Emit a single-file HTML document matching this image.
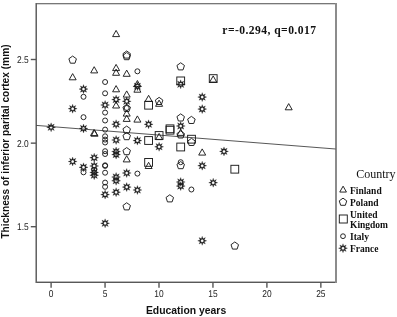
<!DOCTYPE html>
<html><head><meta charset="utf-8"><style>
html,body{margin:0;padding:0;background:#fff;}
svg{display:block;will-change:transform;}
.tk{font-family:"Liberation Sans",sans-serif;font-size:9.9px;fill:#222;text-rendering:geometricPrecision;}
.ax{font-family:"Liberation Sans",sans-serif;font-weight:bold;font-size:10.4px;fill:#111;}
.ay{font-family:"Liberation Sans",sans-serif;font-weight:bold;font-size:10.17px;fill:#111;}
.ti{font-family:"Liberation Serif",serif;font-weight:bold;font-size:11.6px;letter-spacing:0.44px;fill:#111;}
.lt{font-family:"Liberation Serif",serif;font-size:12px;fill:#111;}
.lg{font-family:"Liberation Serif",serif;font-weight:bold;font-size:9.5px;fill:#111;}
</style></head><body>
<svg width="397" height="317" viewBox="0 0 397 317">
<rect width="397" height="317" fill="#fff"/>
<g shape-rendering="crispEdges"><rect x="35" y="3" width="302" height="1" fill="#777"/><rect x="36" y="4" width="300" height="1" fill="#d4d4d4"/><rect x="35" y="281" width="302" height="1" fill="#b8b8b8"/><rect x="35" y="282" width="302" height="1" fill="#585858"/><rect x="35" y="3" width="1" height="280" fill="#aaa"/><rect x="36" y="3" width="1" height="280" fill="#636363"/><rect x="335" y="3" width="1" height="280" fill="#8c8c8c"/><rect x="336" y="3" width="1" height="280" fill="#8c8c8c"/></g>
<line x1="51.10" y1="282.5" x2="51.10" y2="287.8" stroke="#555" stroke-width="1.4"/><text transform="translate(51.10,296.9) scale(0.85,1)" text-anchor="middle" class="tk">0</text><line x1="105.05" y1="282.5" x2="105.05" y2="287.8" stroke="#555" stroke-width="1.4"/><text transform="translate(105.05,296.9) scale(0.85,1)" text-anchor="middle" class="tk">5</text><line x1="159.00" y1="282.5" x2="159.00" y2="287.8" stroke="#555" stroke-width="1.4"/><text transform="translate(159.00,296.9) scale(0.85,1)" text-anchor="middle" class="tk">10</text><line x1="212.95" y1="282.5" x2="212.95" y2="287.8" stroke="#555" stroke-width="1.4"/><text transform="translate(212.95,296.9) scale(0.85,1)" text-anchor="middle" class="tk">15</text><line x1="266.90" y1="282.5" x2="266.90" y2="287.8" stroke="#555" stroke-width="1.4"/><text transform="translate(266.90,296.9) scale(0.85,1)" text-anchor="middle" class="tk">20</text><line x1="320.85" y1="282.5" x2="320.85" y2="287.8" stroke="#555" stroke-width="1.4"/><text transform="translate(320.85,296.9) scale(0.85,1)" text-anchor="middle" class="tk">25</text><line x1="30.8" y1="59.5" x2="36" y2="59.5" stroke="#555" stroke-width="1.4"/><text transform="translate(28.7,62.9) scale(0.85,1)" text-anchor="end" class="tk">2.5</text><line x1="30.8" y1="143.15" x2="36" y2="143.15" stroke="#555" stroke-width="1.4"/><text transform="translate(28.7,146.6) scale(0.85,1)" text-anchor="end" class="tk">2.0</text><line x1="30.8" y1="226.7" x2="36" y2="226.7" stroke="#555" stroke-width="1.4"/><text transform="translate(28.7,230.1) scale(0.85,1)" text-anchor="end" class="tk">1.5</text>
<line x1="36.2" y1="125.4" x2="335.7" y2="149" stroke="#444" stroke-width="0.9"/>
<rect x="144.70" y="101.30" width="7.8" height="7.8" rx="0" fill="none" stroke="#1c1c1c" stroke-width="0.95"/><rect x="144.70" y="136.60" width="7.8" height="7.8" rx="0" fill="none" stroke="#1c1c1c" stroke-width="0.95"/><rect x="144.70" y="158.50" width="7.8" height="7.8" rx="0" fill="none" stroke="#1c1c1c" stroke-width="0.95"/><rect x="155.20" y="131.60" width="7.8" height="7.8" rx="0" fill="none" stroke="#1c1c1c" stroke-width="0.95"/><rect x="166.10" y="124.90" width="7.8" height="7.8" rx="0" fill="none" stroke="#1c1c1c" stroke-width="0.95"/><rect x="166.10" y="126.30" width="7.8" height="7.8" rx="0" fill="none" stroke="#1c1c1c" stroke-width="0.95"/><rect x="176.80" y="77.00" width="7.8" height="7.8" rx="0" fill="none" stroke="#1c1c1c" stroke-width="0.95"/><rect x="176.80" y="143.10" width="7.8" height="7.8" rx="0" fill="none" stroke="#1c1c1c" stroke-width="0.95"/><rect x="187.60" y="135.30" width="7.8" height="7.8" rx="0" fill="none" stroke="#1c1c1c" stroke-width="0.95"/><rect x="209.30" y="74.70" width="7.8" height="7.8" rx="0" fill="none" stroke="#1c1c1c" stroke-width="0.95"/><rect x="230.90" y="165.30" width="7.8" height="7.8" rx="0" fill="none" stroke="#1c1c1c" stroke-width="0.95"/><path d="M72.65,56.05 L76.41,58.78 L74.97,63.20 L70.33,63.20 L68.89,58.78Z" fill="none" stroke="#1c1c1c" stroke-width="0.95"/><path d="M126.70,50.95 L130.46,53.68 L129.02,58.10 L124.38,58.10 L122.94,53.68Z" fill="none" stroke="#1c1c1c" stroke-width="0.95"/><path d="M126.70,52.55 L130.46,55.28 L129.02,59.70 L124.38,59.70 L122.94,55.28Z" fill="none" stroke="#1c1c1c" stroke-width="0.95"/><path d="M126.70,104.35 L130.46,107.08 L129.02,111.50 L124.38,111.50 L122.94,107.08Z" fill="none" stroke="#1c1c1c" stroke-width="0.95"/><path d="M126.70,126.05 L130.46,128.78 L129.02,133.20 L124.38,133.20 L122.94,128.78Z" fill="none" stroke="#1c1c1c" stroke-width="0.95"/><path d="M126.70,132.55 L130.46,135.28 L129.02,139.70 L124.38,139.70 L122.94,135.28Z" fill="none" stroke="#1c1c1c" stroke-width="0.95"/><path d="M126.70,147.55 L130.46,150.28 L129.02,154.70 L124.38,154.70 L122.94,150.28Z" fill="none" stroke="#1c1c1c" stroke-width="0.95"/><path d="M126.70,202.75 L130.46,205.48 L129.02,209.90 L124.38,209.90 L122.94,205.48Z" fill="none" stroke="#1c1c1c" stroke-width="0.95"/><path d="M159.10,97.35 L162.86,100.08 L161.42,104.50 L156.78,104.50 L155.34,100.08Z" fill="none" stroke="#1c1c1c" stroke-width="0.95"/><path d="M169.80,194.75 L173.56,197.48 L172.12,201.90 L167.48,201.90 L166.04,197.48Z" fill="none" stroke="#1c1c1c" stroke-width="0.95"/><path d="M180.70,62.75 L184.46,65.48 L183.02,69.90 L178.38,69.90 L176.94,65.48Z" fill="none" stroke="#1c1c1c" stroke-width="0.95"/><path d="M180.70,113.85 L184.46,116.58 L183.02,121.00 L178.38,121.00 L176.94,116.58Z" fill="none" stroke="#1c1c1c" stroke-width="0.95"/><path d="M180.70,130.85 L184.46,133.58 L183.02,138.00 L178.38,138.00 L176.94,133.58Z" fill="none" stroke="#1c1c1c" stroke-width="0.95"/><path d="M180.70,161.55 L184.46,164.28 L183.02,168.70 L178.38,168.70 L176.94,164.28Z" fill="none" stroke="#1c1c1c" stroke-width="0.95"/><path d="M191.40,116.35 L195.16,119.08 L193.72,123.50 L189.08,123.50 L187.64,119.08Z" fill="none" stroke="#1c1c1c" stroke-width="0.95"/><path d="M191.50,138.35 L195.26,141.08 L193.82,145.50 L189.18,145.50 L187.74,141.08Z" fill="none" stroke="#1c1c1c" stroke-width="0.95"/><path d="M234.80,241.95 L238.56,244.68 L237.12,249.10 L232.48,249.10 L231.04,244.68Z" fill="none" stroke="#1c1c1c" stroke-width="0.95"/><path d="M72.65,73.60 L76.15,79.80 L69.15,79.80Z" fill="none" stroke="#1c1c1c" stroke-width="0.95" stroke-linejoin="miter"/><path d="M94.20,66.70 L97.70,72.90 L90.70,72.90Z" fill="none" stroke="#1c1c1c" stroke-width="0.95" stroke-linejoin="miter"/><path d="M94.05,129.40 L97.55,135.60 L90.55,135.60Z" fill="none" stroke="#1c1c1c" stroke-width="0.95" stroke-linejoin="miter"/><path d="M94.55,130.00 L98.05,136.20 L91.05,136.20Z" fill="none" stroke="#1c1c1c" stroke-width="0.95" stroke-linejoin="miter"/><path d="M116.10,30.40 L119.60,36.60 L112.60,36.60Z" fill="none" stroke="#1c1c1c" stroke-width="0.95" stroke-linejoin="miter"/><path d="M116.10,64.40 L119.60,70.60 L112.60,70.60Z" fill="none" stroke="#1c1c1c" stroke-width="0.95" stroke-linejoin="miter"/><path d="M116.10,69.10 L119.60,75.30 L112.60,75.30Z" fill="none" stroke="#1c1c1c" stroke-width="0.95" stroke-linejoin="miter"/><path d="M116.10,85.60 L119.60,91.80 L112.60,91.80Z" fill="none" stroke="#1c1c1c" stroke-width="0.95" stroke-linejoin="miter"/><path d="M116.10,101.80 L119.60,108.00 L112.60,108.00Z" fill="none" stroke="#1c1c1c" stroke-width="0.95" stroke-linejoin="miter"/><path d="M126.70,70.10 L130.20,76.30 L123.20,76.30Z" fill="none" stroke="#1c1c1c" stroke-width="0.95" stroke-linejoin="miter"/><path d="M126.70,90.90 L130.20,97.10 L123.20,97.10Z" fill="none" stroke="#1c1c1c" stroke-width="0.95" stroke-linejoin="miter"/><path d="M126.70,109.90 L130.20,116.10 L123.20,116.10Z" fill="none" stroke="#1c1c1c" stroke-width="0.95" stroke-linejoin="miter"/><path d="M126.70,115.20 L130.20,121.40 L123.20,121.40Z" fill="none" stroke="#1c1c1c" stroke-width="0.95" stroke-linejoin="miter"/><path d="M126.70,155.70 L130.20,161.90 L123.20,161.90Z" fill="none" stroke="#1c1c1c" stroke-width="0.95" stroke-linejoin="miter"/><path d="M137.40,80.50 L140.90,86.70 L133.90,86.70Z" fill="none" stroke="#1c1c1c" stroke-width="0.95" stroke-linejoin="miter"/><path d="M137.40,86.00 L140.90,92.20 L133.90,92.20Z" fill="none" stroke="#1c1c1c" stroke-width="0.95" stroke-linejoin="miter"/><path d="M137.40,115.90 L140.90,122.10 L133.90,122.10Z" fill="none" stroke="#1c1c1c" stroke-width="0.95" stroke-linejoin="miter"/><path d="M148.60,95.30 L152.10,101.50 L145.10,101.50Z" fill="none" stroke="#1c1c1c" stroke-width="0.95" stroke-linejoin="miter"/><path d="M148.60,162.30 L152.10,168.50 L145.10,168.50Z" fill="none" stroke="#1c1c1c" stroke-width="0.95" stroke-linejoin="miter"/><path d="M159.10,100.10 L162.60,106.30 L155.60,106.30Z" fill="none" stroke="#1c1c1c" stroke-width="0.95" stroke-linejoin="miter"/><path d="M159.10,133.40 L162.60,139.60 L155.60,139.60Z" fill="none" stroke="#1c1c1c" stroke-width="0.95" stroke-linejoin="miter"/><path d="M180.70,129.20 L184.20,135.40 L177.20,135.40Z" fill="none" stroke="#1c1c1c" stroke-width="0.95" stroke-linejoin="miter"/><path d="M202.20,148.90 L205.70,155.10 L198.70,155.10Z" fill="none" stroke="#1c1c1c" stroke-width="0.95" stroke-linejoin="miter"/><path d="M213.20,75.90 L216.70,82.10 L209.70,82.10Z" fill="none" stroke="#1c1c1c" stroke-width="0.95" stroke-linejoin="miter"/><path d="M288.70,103.60 L292.20,109.80 L285.20,109.80Z" fill="none" stroke="#1c1c1c" stroke-width="0.95" stroke-linejoin="miter"/><circle cx="83.50" cy="96.80" r="2.5" fill="none" stroke="#1c1c1c" stroke-width="0.95"/><circle cx="83.50" cy="117.20" r="2.5" fill="none" stroke="#1c1c1c" stroke-width="0.95"/><circle cx="83.50" cy="172.30" r="2.5" fill="none" stroke="#1c1c1c" stroke-width="0.95"/><circle cx="94.20" cy="169.90" r="2.5" fill="none" stroke="#1c1c1c" stroke-width="0.95"/><circle cx="105.10" cy="82.00" r="2.5" fill="none" stroke="#1c1c1c" stroke-width="0.95"/><circle cx="105.10" cy="93.30" r="2.5" fill="none" stroke="#1c1c1c" stroke-width="0.95"/><circle cx="105.10" cy="112.60" r="2.5" fill="none" stroke="#1c1c1c" stroke-width="0.95"/><circle cx="105.10" cy="120.50" r="2.5" fill="none" stroke="#1c1c1c" stroke-width="0.95"/><circle cx="105.10" cy="129.60" r="2.5" fill="none" stroke="#1c1c1c" stroke-width="0.95"/><circle cx="105.10" cy="136.30" r="2.5" fill="none" stroke="#1c1c1c" stroke-width="0.95"/><circle cx="105.10" cy="139.60" r="2.5" fill="none" stroke="#1c1c1c" stroke-width="0.95"/><circle cx="105.10" cy="142.50" r="2.5" fill="none" stroke="#1c1c1c" stroke-width="0.95"/><circle cx="105.10" cy="151.20" r="2.5" fill="none" stroke="#1c1c1c" stroke-width="0.95"/><circle cx="105.10" cy="154.00" r="2.5" fill="none" stroke="#1c1c1c" stroke-width="0.95"/><circle cx="105.10" cy="165.30" r="2.5" fill="none" stroke="#1c1c1c" stroke-width="0.95"/><circle cx="105.10" cy="165.90" r="2.5" fill="none" stroke="#1c1c1c" stroke-width="0.95"/><circle cx="105.10" cy="172.70" r="2.5" fill="none" stroke="#1c1c1c" stroke-width="0.95"/><circle cx="105.10" cy="182.60" r="2.5" fill="none" stroke="#1c1c1c" stroke-width="0.95"/><circle cx="105.10" cy="186.80" r="2.5" fill="none" stroke="#1c1c1c" stroke-width="0.95"/><circle cx="126.70" cy="108.00" r="2.5" fill="none" stroke="#1c1c1c" stroke-width="0.95"/><circle cx="137.40" cy="71.30" r="2.5" fill="none" stroke="#1c1c1c" stroke-width="0.95"/><circle cx="137.40" cy="173.60" r="2.5" fill="none" stroke="#1c1c1c" stroke-width="0.95"/><circle cx="180.70" cy="162.20" r="2.5" fill="none" stroke="#1c1c1c" stroke-width="0.95"/><circle cx="191.40" cy="189.50" r="2.5" fill="none" stroke="#1c1c1c" stroke-width="0.95"/><path d="M51.10,122.80 L51.94,125.27 L54.28,124.12 L53.13,126.46 L55.60,127.30 L53.13,128.14 L54.28,130.48 L51.94,129.33 L51.10,131.80 L50.26,129.33 L47.92,130.48 L49.07,128.14 L46.60,127.30 L49.07,126.46 L47.92,124.12 L50.26,125.27Z M49.60,127.30 a1.5,1.5 0 1,0 3.0,0 a1.5,1.5 0 1,0 -3.0,0Z" fill="#1c1c1c" fill-rule="evenodd" stroke="#1c1c1c" stroke-width="0.25" stroke-linejoin="miter"/><path d="M72.65,104.20 L73.49,106.67 L75.83,105.52 L74.68,107.86 L77.15,108.70 L74.68,109.54 L75.83,111.88 L73.49,110.73 L72.65,113.20 L71.81,110.73 L69.47,111.88 L70.62,109.54 L68.15,108.70 L70.62,107.86 L69.47,105.52 L71.81,106.67Z M71.15,108.70 a1.5,1.5 0 1,0 3.0,0 a1.5,1.5 0 1,0 -3.0,0Z" fill="#1c1c1c" fill-rule="evenodd" stroke="#1c1c1c" stroke-width="0.25" stroke-linejoin="miter"/><path d="M72.65,157.00 L73.49,159.47 L75.83,158.32 L74.68,160.66 L77.15,161.50 L74.68,162.34 L75.83,164.68 L73.49,163.53 L72.65,166.00 L71.81,163.53 L69.47,164.68 L70.62,162.34 L68.15,161.50 L70.62,160.66 L69.47,158.32 L71.81,159.47Z M71.15,161.50 a1.5,1.5 0 1,0 3.0,0 a1.5,1.5 0 1,0 -3.0,0Z" fill="#1c1c1c" fill-rule="evenodd" stroke="#1c1c1c" stroke-width="0.25" stroke-linejoin="miter"/><path d="M83.50,84.60 L84.34,87.07 L86.68,85.92 L85.53,88.26 L88.00,89.10 L85.53,89.94 L86.68,92.28 L84.34,91.13 L83.50,93.60 L82.66,91.13 L80.32,92.28 L81.47,89.94 L79.00,89.10 L81.47,88.26 L80.32,85.92 L82.66,87.07Z M82.00,89.10 a1.5,1.5 0 1,0 3.0,0 a1.5,1.5 0 1,0 -3.0,0Z" fill="#1c1c1c" fill-rule="evenodd" stroke="#1c1c1c" stroke-width="0.25" stroke-linejoin="miter"/><path d="M83.50,124.00 L84.34,126.47 L86.68,125.32 L85.53,127.66 L88.00,128.50 L85.53,129.34 L86.68,131.68 L84.34,130.53 L83.50,133.00 L82.66,130.53 L80.32,131.68 L81.47,129.34 L79.00,128.50 L81.47,127.66 L80.32,125.32 L82.66,126.47Z M82.00,128.50 a1.5,1.5 0 1,0 3.0,0 a1.5,1.5 0 1,0 -3.0,0Z" fill="#1c1c1c" fill-rule="evenodd" stroke="#1c1c1c" stroke-width="0.25" stroke-linejoin="miter"/><path d="M83.50,162.80 L84.34,165.27 L86.68,164.12 L85.53,166.46 L88.00,167.30 L85.53,168.14 L86.68,170.48 L84.34,169.33 L83.50,171.80 L82.66,169.33 L80.32,170.48 L81.47,168.14 L79.00,167.30 L81.47,166.46 L80.32,164.12 L82.66,165.27Z M82.00,167.30 a1.5,1.5 0 1,0 3.0,0 a1.5,1.5 0 1,0 -3.0,0Z" fill="#1c1c1c" fill-rule="evenodd" stroke="#1c1c1c" stroke-width="0.25" stroke-linejoin="miter"/><path d="M94.20,153.20 L95.04,155.67 L97.38,154.52 L96.23,156.86 L98.70,157.70 L96.23,158.54 L97.38,160.88 L95.04,159.73 L94.20,162.20 L93.36,159.73 L91.02,160.88 L92.17,158.54 L89.70,157.70 L92.17,156.86 L91.02,154.52 L93.36,155.67Z M92.70,157.70 a1.5,1.5 0 1,0 3.0,0 a1.5,1.5 0 1,0 -3.0,0Z" fill="#1c1c1c" fill-rule="evenodd" stroke="#1c1c1c" stroke-width="0.25" stroke-linejoin="miter"/><path d="M94.20,161.50 L95.04,163.97 L97.38,162.82 L96.23,165.16 L98.70,166.00 L96.23,166.84 L97.38,169.18 L95.04,168.03 L94.20,170.50 L93.36,168.03 L91.02,169.18 L92.17,166.84 L89.70,166.00 L92.17,165.16 L91.02,162.82 L93.36,163.97Z M92.70,166.00 a1.5,1.5 0 1,0 3.0,0 a1.5,1.5 0 1,0 -3.0,0Z" fill="#1c1c1c" fill-rule="evenodd" stroke="#1c1c1c" stroke-width="0.25" stroke-linejoin="miter"/><path d="M94.20,167.90 L95.04,170.37 L97.38,169.22 L96.23,171.56 L98.70,172.40 L96.23,173.24 L97.38,175.58 L95.04,174.43 L94.20,176.90 L93.36,174.43 L91.02,175.58 L92.17,173.24 L89.70,172.40 L92.17,171.56 L91.02,169.22 L93.36,170.37Z M92.70,172.40 a1.5,1.5 0 1,0 3.0,0 a1.5,1.5 0 1,0 -3.0,0Z" fill="#1c1c1c" fill-rule="evenodd" stroke="#1c1c1c" stroke-width="0.25" stroke-linejoin="miter"/><path d="M94.20,170.70 L95.04,173.17 L97.38,172.02 L96.23,174.36 L98.70,175.20 L96.23,176.04 L97.38,178.38 L95.04,177.23 L94.20,179.70 L93.36,177.23 L91.02,178.38 L92.17,176.04 L89.70,175.20 L92.17,174.36 L91.02,172.02 L93.36,173.17Z M92.70,175.20 a1.5,1.5 0 1,0 3.0,0 a1.5,1.5 0 1,0 -3.0,0Z" fill="#1c1c1c" fill-rule="evenodd" stroke="#1c1c1c" stroke-width="0.25" stroke-linejoin="miter"/><path d="M105.10,100.50 L105.94,102.97 L108.28,101.82 L107.13,104.16 L109.60,105.00 L107.13,105.84 L108.28,108.18 L105.94,107.03 L105.10,109.50 L104.26,107.03 L101.92,108.18 L103.07,105.84 L100.60,105.00 L103.07,104.16 L101.92,101.82 L104.26,102.97Z M103.60,105.00 a1.5,1.5 0 1,0 3.0,0 a1.5,1.5 0 1,0 -3.0,0Z" fill="#1c1c1c" fill-rule="evenodd" stroke="#1c1c1c" stroke-width="0.25" stroke-linejoin="miter"/><path d="M105.10,190.10 L105.94,192.57 L108.28,191.42 L107.13,193.76 L109.60,194.60 L107.13,195.44 L108.28,197.78 L105.94,196.63 L105.10,199.10 L104.26,196.63 L101.92,197.78 L103.07,195.44 L100.60,194.60 L103.07,193.76 L101.92,191.42 L104.26,192.57Z M103.60,194.60 a1.5,1.5 0 1,0 3.0,0 a1.5,1.5 0 1,0 -3.0,0Z" fill="#1c1c1c" fill-rule="evenodd" stroke="#1c1c1c" stroke-width="0.25" stroke-linejoin="miter"/><path d="M105.10,218.80 L105.94,221.27 L108.28,220.12 L107.13,222.46 L109.60,223.30 L107.13,224.14 L108.28,226.48 L105.94,225.33 L105.10,227.80 L104.26,225.33 L101.92,226.48 L103.07,224.14 L100.60,223.30 L103.07,222.46 L101.92,220.12 L104.26,221.27Z M103.60,223.30 a1.5,1.5 0 1,0 3.0,0 a1.5,1.5 0 1,0 -3.0,0Z" fill="#1c1c1c" fill-rule="evenodd" stroke="#1c1c1c" stroke-width="0.25" stroke-linejoin="miter"/><path d="M116.10,95.10 L116.94,97.57 L119.28,96.42 L118.13,98.76 L120.60,99.60 L118.13,100.44 L119.28,102.78 L116.94,101.63 L116.10,104.10 L115.26,101.63 L112.92,102.78 L114.07,100.44 L111.60,99.60 L114.07,98.76 L112.92,96.42 L115.26,97.57Z M114.60,99.60 a1.5,1.5 0 1,0 3.0,0 a1.5,1.5 0 1,0 -3.0,0Z" fill="#1c1c1c" fill-rule="evenodd" stroke="#1c1c1c" stroke-width="0.25" stroke-linejoin="miter"/><path d="M116.10,119.70 L116.94,122.17 L119.28,121.02 L118.13,123.36 L120.60,124.20 L118.13,125.04 L119.28,127.38 L116.94,126.23 L116.10,128.70 L115.26,126.23 L112.92,127.38 L114.07,125.04 L111.60,124.20 L114.07,123.36 L112.92,121.02 L115.26,122.17Z M114.60,124.20 a1.5,1.5 0 1,0 3.0,0 a1.5,1.5 0 1,0 -3.0,0Z" fill="#1c1c1c" fill-rule="evenodd" stroke="#1c1c1c" stroke-width="0.25" stroke-linejoin="miter"/><path d="M116.10,135.50 L116.94,137.97 L119.28,136.82 L118.13,139.16 L120.60,140.00 L118.13,140.84 L119.28,143.18 L116.94,142.03 L116.10,144.50 L115.26,142.03 L112.92,143.18 L114.07,140.84 L111.60,140.00 L114.07,139.16 L112.92,136.82 L115.26,137.97Z M114.60,140.00 a1.5,1.5 0 1,0 3.0,0 a1.5,1.5 0 1,0 -3.0,0Z" fill="#1c1c1c" fill-rule="evenodd" stroke="#1c1c1c" stroke-width="0.25" stroke-linejoin="miter"/><path d="M116.10,147.00 L116.94,149.47 L119.28,148.32 L118.13,150.66 L120.60,151.50 L118.13,152.34 L119.28,154.68 L116.94,153.53 L116.10,156.00 L115.26,153.53 L112.92,154.68 L114.07,152.34 L111.60,151.50 L114.07,150.66 L112.92,148.32 L115.26,149.47Z M114.60,151.50 a1.5,1.5 0 1,0 3.0,0 a1.5,1.5 0 1,0 -3.0,0Z" fill="#1c1c1c" fill-rule="evenodd" stroke="#1c1c1c" stroke-width="0.25" stroke-linejoin="miter"/><path d="M116.10,150.10 L116.94,152.57 L119.28,151.42 L118.13,153.76 L120.60,154.60 L118.13,155.44 L119.28,157.78 L116.94,156.63 L116.10,159.10 L115.26,156.63 L112.92,157.78 L114.07,155.44 L111.60,154.60 L114.07,153.76 L112.92,151.42 L115.26,152.57Z M114.60,154.60 a1.5,1.5 0 1,0 3.0,0 a1.5,1.5 0 1,0 -3.0,0Z" fill="#1c1c1c" fill-rule="evenodd" stroke="#1c1c1c" stroke-width="0.25" stroke-linejoin="miter"/><path d="M116.10,172.50 L116.94,174.97 L119.28,173.82 L118.13,176.16 L120.60,177.00 L118.13,177.84 L119.28,180.18 L116.94,179.03 L116.10,181.50 L115.26,179.03 L112.92,180.18 L114.07,177.84 L111.60,177.00 L114.07,176.16 L112.92,173.82 L115.26,174.97Z M114.60,177.00 a1.5,1.5 0 1,0 3.0,0 a1.5,1.5 0 1,0 -3.0,0Z" fill="#1c1c1c" fill-rule="evenodd" stroke="#1c1c1c" stroke-width="0.25" stroke-linejoin="miter"/><path d="M116.10,176.30 L116.94,178.77 L119.28,177.62 L118.13,179.96 L120.60,180.80 L118.13,181.64 L119.28,183.98 L116.94,182.83 L116.10,185.30 L115.26,182.83 L112.92,183.98 L114.07,181.64 L111.60,180.80 L114.07,179.96 L112.92,177.62 L115.26,178.77Z M114.60,180.80 a1.5,1.5 0 1,0 3.0,0 a1.5,1.5 0 1,0 -3.0,0Z" fill="#1c1c1c" fill-rule="evenodd" stroke="#1c1c1c" stroke-width="0.25" stroke-linejoin="miter"/><path d="M116.10,187.70 L116.94,190.17 L119.28,189.02 L118.13,191.36 L120.60,192.20 L118.13,193.04 L119.28,195.38 L116.94,194.23 L116.10,196.70 L115.26,194.23 L112.92,195.38 L114.07,193.04 L111.60,192.20 L114.07,191.36 L112.92,189.02 L115.26,190.17Z M114.60,192.20 a1.5,1.5 0 1,0 3.0,0 a1.5,1.5 0 1,0 -3.0,0Z" fill="#1c1c1c" fill-rule="evenodd" stroke="#1c1c1c" stroke-width="0.25" stroke-linejoin="miter"/><path d="M126.70,96.80 L127.54,99.27 L129.88,98.12 L128.73,100.46 L131.20,101.30 L128.73,102.14 L129.88,104.48 L127.54,103.33 L126.70,105.80 L125.86,103.33 L123.52,104.48 L124.67,102.14 L122.20,101.30 L124.67,100.46 L123.52,98.12 L125.86,99.27Z M125.20,101.30 a1.5,1.5 0 1,0 3.0,0 a1.5,1.5 0 1,0 -3.0,0Z" fill="#1c1c1c" fill-rule="evenodd" stroke="#1c1c1c" stroke-width="0.25" stroke-linejoin="miter"/><path d="M126.70,168.50 L127.54,170.97 L129.88,169.82 L128.73,172.16 L131.20,173.00 L128.73,173.84 L129.88,176.18 L127.54,175.03 L126.70,177.50 L125.86,175.03 L123.52,176.18 L124.67,173.84 L122.20,173.00 L124.67,172.16 L123.52,169.82 L125.86,170.97Z M125.20,173.00 a1.5,1.5 0 1,0 3.0,0 a1.5,1.5 0 1,0 -3.0,0Z" fill="#1c1c1c" fill-rule="evenodd" stroke="#1c1c1c" stroke-width="0.25" stroke-linejoin="miter"/><path d="M126.70,182.60 L127.54,185.07 L129.88,183.92 L128.73,186.26 L131.20,187.10 L128.73,187.94 L129.88,190.28 L127.54,189.13 L126.70,191.60 L125.86,189.13 L123.52,190.28 L124.67,187.94 L122.20,187.10 L124.67,186.26 L123.52,183.92 L125.86,185.07Z M125.20,187.10 a1.5,1.5 0 1,0 3.0,0 a1.5,1.5 0 1,0 -3.0,0Z" fill="#1c1c1c" fill-rule="evenodd" stroke="#1c1c1c" stroke-width="0.25" stroke-linejoin="miter"/><path d="M137.40,81.80 L138.24,84.27 L140.58,83.12 L139.43,85.46 L141.90,86.30 L139.43,87.14 L140.58,89.48 L138.24,88.33 L137.40,90.80 L136.56,88.33 L134.22,89.48 L135.37,87.14 L132.90,86.30 L135.37,85.46 L134.22,83.12 L136.56,84.27Z M135.90,86.30 a1.5,1.5 0 1,0 3.0,0 a1.5,1.5 0 1,0 -3.0,0Z" fill="#1c1c1c" fill-rule="evenodd" stroke="#1c1c1c" stroke-width="0.25" stroke-linejoin="miter"/><path d="M137.40,136.10 L138.24,138.57 L140.58,137.42 L139.43,139.76 L141.90,140.60 L139.43,141.44 L140.58,143.78 L138.24,142.63 L137.40,145.10 L136.56,142.63 L134.22,143.78 L135.37,141.44 L132.90,140.60 L135.37,139.76 L134.22,137.42 L136.56,138.57Z M135.90,140.60 a1.5,1.5 0 1,0 3.0,0 a1.5,1.5 0 1,0 -3.0,0Z" fill="#1c1c1c" fill-rule="evenodd" stroke="#1c1c1c" stroke-width="0.25" stroke-linejoin="miter"/><path d="M137.40,185.50 L138.24,187.97 L140.58,186.82 L139.43,189.16 L141.90,190.00 L139.43,190.84 L140.58,193.18 L138.24,192.03 L137.40,194.50 L136.56,192.03 L134.22,193.18 L135.37,190.84 L132.90,190.00 L135.37,189.16 L134.22,186.82 L136.56,187.97Z M135.90,190.00 a1.5,1.5 0 1,0 3.0,0 a1.5,1.5 0 1,0 -3.0,0Z" fill="#1c1c1c" fill-rule="evenodd" stroke="#1c1c1c" stroke-width="0.25" stroke-linejoin="miter"/><path d="M148.60,119.80 L149.44,122.27 L151.78,121.12 L150.63,123.46 L153.10,124.30 L150.63,125.14 L151.78,127.48 L149.44,126.33 L148.60,128.80 L147.76,126.33 L145.42,127.48 L146.57,125.14 L144.10,124.30 L146.57,123.46 L145.42,121.12 L147.76,122.27Z M147.10,124.30 a1.5,1.5 0 1,0 3.0,0 a1.5,1.5 0 1,0 -3.0,0Z" fill="#1c1c1c" fill-rule="evenodd" stroke="#1c1c1c" stroke-width="0.25" stroke-linejoin="miter"/><path d="M159.10,142.30 L159.94,144.77 L162.28,143.62 L161.13,145.96 L163.60,146.80 L161.13,147.64 L162.28,149.98 L159.94,148.83 L159.10,151.30 L158.26,148.83 L155.92,149.98 L157.07,147.64 L154.60,146.80 L157.07,145.96 L155.92,143.62 L158.26,144.77Z M157.60,146.80 a1.5,1.5 0 1,0 3.0,0 a1.5,1.5 0 1,0 -3.0,0Z" fill="#1c1c1c" fill-rule="evenodd" stroke="#1c1c1c" stroke-width="0.25" stroke-linejoin="miter"/><path d="M180.70,79.80 L181.54,82.27 L183.88,81.12 L182.73,83.46 L185.20,84.30 L182.73,85.14 L183.88,87.48 L181.54,86.33 L180.70,88.80 L179.86,86.33 L177.52,87.48 L178.67,85.14 L176.20,84.30 L178.67,83.46 L177.52,81.12 L179.86,82.27Z M179.20,84.30 a1.5,1.5 0 1,0 3.0,0 a1.5,1.5 0 1,0 -3.0,0Z" fill="#1c1c1c" fill-rule="evenodd" stroke="#1c1c1c" stroke-width="0.25" stroke-linejoin="miter"/><path d="M180.70,121.50 L181.54,123.97 L183.88,122.82 L182.73,125.16 L185.20,126.00 L182.73,126.84 L183.88,129.18 L181.54,128.03 L180.70,130.50 L179.86,128.03 L177.52,129.18 L178.67,126.84 L176.20,126.00 L178.67,125.16 L177.52,122.82 L179.86,123.97Z M179.20,126.00 a1.5,1.5 0 1,0 3.0,0 a1.5,1.5 0 1,0 -3.0,0Z" fill="#1c1c1c" fill-rule="evenodd" stroke="#1c1c1c" stroke-width="0.25" stroke-linejoin="miter"/><path d="M180.70,177.50 L181.54,179.97 L183.88,178.82 L182.73,181.16 L185.20,182.00 L182.73,182.84 L183.88,185.18 L181.54,184.03 L180.70,186.50 L179.86,184.03 L177.52,185.18 L178.67,182.84 L176.20,182.00 L178.67,181.16 L177.52,178.82 L179.86,179.97Z M179.20,182.00 a1.5,1.5 0 1,0 3.0,0 a1.5,1.5 0 1,0 -3.0,0Z" fill="#1c1c1c" fill-rule="evenodd" stroke="#1c1c1c" stroke-width="0.25" stroke-linejoin="miter"/><path d="M180.70,181.60 L181.54,184.07 L183.88,182.92 L182.73,185.26 L185.20,186.10 L182.73,186.94 L183.88,189.28 L181.54,188.13 L180.70,190.60 L179.86,188.13 L177.52,189.28 L178.67,186.94 L176.20,186.10 L178.67,185.26 L177.52,182.92 L179.86,184.07Z M179.20,186.10 a1.5,1.5 0 1,0 3.0,0 a1.5,1.5 0 1,0 -3.0,0Z" fill="#1c1c1c" fill-rule="evenodd" stroke="#1c1c1c" stroke-width="0.25" stroke-linejoin="miter"/><path d="M202.20,92.60 L203.04,95.07 L205.38,93.92 L204.23,96.26 L206.70,97.10 L204.23,97.94 L205.38,100.28 L203.04,99.13 L202.20,101.60 L201.36,99.13 L199.02,100.28 L200.17,97.94 L197.70,97.10 L200.17,96.26 L199.02,93.92 L201.36,95.07Z M200.70,97.10 a1.5,1.5 0 1,0 3.0,0 a1.5,1.5 0 1,0 -3.0,0Z" fill="#1c1c1c" fill-rule="evenodd" stroke="#1c1c1c" stroke-width="0.25" stroke-linejoin="miter"/><path d="M202.20,104.60 L203.04,107.07 L205.38,105.92 L204.23,108.26 L206.70,109.10 L204.23,109.94 L205.38,112.28 L203.04,111.13 L202.20,113.60 L201.36,111.13 L199.02,112.28 L200.17,109.94 L197.70,109.10 L200.17,108.26 L199.02,105.92 L201.36,107.07Z M200.70,109.10 a1.5,1.5 0 1,0 3.0,0 a1.5,1.5 0 1,0 -3.0,0Z" fill="#1c1c1c" fill-rule="evenodd" stroke="#1c1c1c" stroke-width="0.25" stroke-linejoin="miter"/><path d="M202.20,161.20 L203.04,163.67 L205.38,162.52 L204.23,164.86 L206.70,165.70 L204.23,166.54 L205.38,168.88 L203.04,167.73 L202.20,170.20 L201.36,167.73 L199.02,168.88 L200.17,166.54 L197.70,165.70 L200.17,164.86 L199.02,162.52 L201.36,163.67Z M200.70,165.70 a1.5,1.5 0 1,0 3.0,0 a1.5,1.5 0 1,0 -3.0,0Z" fill="#1c1c1c" fill-rule="evenodd" stroke="#1c1c1c" stroke-width="0.25" stroke-linejoin="miter"/><path d="M202.20,236.30 L203.04,238.77 L205.38,237.62 L204.23,239.96 L206.70,240.80 L204.23,241.64 L205.38,243.98 L203.04,242.83 L202.20,245.30 L201.36,242.83 L199.02,243.98 L200.17,241.64 L197.70,240.80 L200.17,239.96 L199.02,237.62 L201.36,238.77Z M200.70,240.80 a1.5,1.5 0 1,0 3.0,0 a1.5,1.5 0 1,0 -3.0,0Z" fill="#1c1c1c" fill-rule="evenodd" stroke="#1c1c1c" stroke-width="0.25" stroke-linejoin="miter"/><path d="M213.20,178.20 L214.04,180.67 L216.38,179.52 L215.23,181.86 L217.70,182.70 L215.23,183.54 L216.38,185.88 L214.04,184.73 L213.20,187.20 L212.36,184.73 L210.02,185.88 L211.17,183.54 L208.70,182.70 L211.17,181.86 L210.02,179.52 L212.36,180.67Z M211.70,182.70 a1.5,1.5 0 1,0 3.0,0 a1.5,1.5 0 1,0 -3.0,0Z" fill="#1c1c1c" fill-rule="evenodd" stroke="#1c1c1c" stroke-width="0.25" stroke-linejoin="miter"/><path d="M224.00,146.90 L224.84,149.37 L227.18,148.22 L226.03,150.56 L228.50,151.40 L226.03,152.24 L227.18,154.58 L224.84,153.43 L224.00,155.90 L223.16,153.43 L220.82,154.58 L221.97,152.24 L219.50,151.40 L221.97,150.56 L220.82,148.22 L223.16,149.37Z M222.50,151.40 a1.5,1.5 0 1,0 3.0,0 a1.5,1.5 0 1,0 -3.0,0Z" fill="#1c1c1c" fill-rule="evenodd" stroke="#1c1c1c" stroke-width="0.25" stroke-linejoin="miter"/>
<text id="title" x="222.3" y="33.5" class="ti">r=-0.294, q=0.017</text>
<text id="xl" x="145.9" y="313.6" class="ax">Education years</text>
<text id="yl" transform="translate(9.3,238.6) rotate(-90)" class="ay">Thickness of inferior parital cortex (mm)</text>
<text x="356.2" y="178.2" class="lt">Country</text><text x="350.0" y="193.6" class="lg">Finland</text><text x="350.0" y="205.6" class="lg">Poland</text><text x="350.0" y="217.8" class="lg">United</text><text x="350.0" y="228.0" class="lg">Kingdom</text><text x="350.0" y="240.2" class="lg">Italy</text><text x="350.0" y="251.7" class="lg">France</text><path d="M343.10,186.15 L346.45,192.05 L339.75,192.05Z" fill="none" stroke="#1c1c1c" stroke-width="0.95" stroke-linejoin="miter"/><path d="M343.00,198.15 L346.76,200.88 L345.32,205.30 L340.68,205.30 L339.24,200.88Z" fill="none" stroke="#1c1c1c" stroke-width="0.95"/><rect x="339.30" y="215.00" width="8.0" height="8.0" rx="0" fill="none" stroke="#1c1c1c" stroke-width="0.95"/><circle cx="343.00" cy="236.20" r="2.4" fill="none" stroke="#1c1c1c" stroke-width="0.95"/><path d="M343.00,243.70 L343.84,246.17 L346.18,245.02 L345.03,247.36 L347.50,248.20 L345.03,249.04 L346.18,251.38 L343.84,250.23 L343.00,252.70 L342.16,250.23 L339.82,251.38 L340.97,249.04 L338.50,248.20 L340.97,247.36 L339.82,245.02 L342.16,246.17Z M341.50,248.20 a1.5,1.5 0 1,0 3.0,0 a1.5,1.5 0 1,0 -3.0,0Z" fill="#1c1c1c" fill-rule="evenodd" stroke="#1c1c1c" stroke-width="0.25" stroke-linejoin="miter"/>
</svg>
</body></html>
